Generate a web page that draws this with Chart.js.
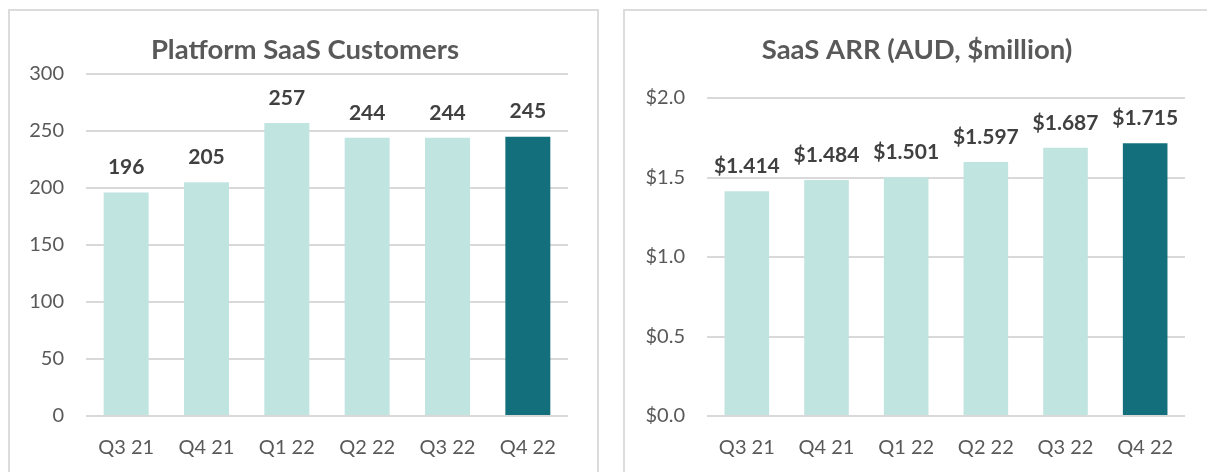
<!DOCTYPE html>
<html>
<head>
<meta charset="utf-8">
<script src="https://cdn.jsdelivr.net/npm/chart.js@4.4.0/dist/chart.umd.min.js"></script>
<style>
  html, body { margin: 0; padding: 0; background: #ffffff; width: 1207px; height: 472px; overflow: hidden; }
  .panel { position: absolute; box-sizing: border-box; border: 2px solid #dcdcdc; background: #fff; }
  canvas { position: absolute; }
</style>
</head>
<body>
<div class="panel" style="left:8px; top:9px; width:591px; height:480px;"></div>
<div class="panel" style="left:623px; top:9px; width:600px; height:480px;"></div>
<canvas id="c1" width="586" height="461" style="left:10px; top:11px;"></canvas>
<canvas id="c2" width="581" height="461" style="left:626px; top:11px;"></canvas>
<script>
// ---- data ----
const categories = ["Q3 21", "Q4 21", "Q1 22", "Q2 22", "Q3 22", "Q4 22"];
const customers = [196, 205, 257, 244, 244, 245];
const arr = [1.414, 1.484, 1.501, 1.597, 1.687, 1.715];
const customersTicks = [0, 50, 100, 150, 200, 250, 300];
const arrTicks = [0.0, 0.5, 1.0, 1.5, 2.0];
const title1 = "Platform SaaS Customers";
const title2 = "SaaS ARR (AUD, $million)";

const LIGHT = "#c0e4e0";
const DARK = "#136f7c";
const barColors = categories.map((c, i) => i === categories.length - 1 ? DARK : LIGHT);
const FONT = "Lato, 'Open Sans', sans-serif";

const labelPlugin = {
  id: "barLabels",
  afterLayout(chart, args, opts) {
    // centre the title over the whole panel rather than over the plot
    if (chart.titleBlock) {
      chart.titleBlock.left += opts.titleShift;
      chart.titleBlock.right += opts.titleShift;
    }
  },
  afterDatasetsDraw(chart, args, opts) {
    const ctx = chart.ctx;
    const meta = chart.getDatasetMeta(0);
    ctx.save();
    ctx.font = "bold 21px " + FONT;
    ctx.fillStyle = "#404040";
    ctx.textAlign = "center";
    ctx.textBaseline = "middle";
    meta.data.forEach((bar, i) => {
      const v = chart.data.datasets[0].data[i];
      ctx.fillText(opts.fmt(v), bar.x, bar.y - 25);
    });
    ctx.restore();
  }
};

function makeChart(id, data, ticks, title, fmtTick, fmtLabel, area) {
  const [left, top, right, bottom, w, h, shift] = area;
  const TS = 27.5;
  return new Chart(document.getElementById(id), {
    type: "bar",
    data: {
      labels: categories,
      datasets: [{ data: data, backgroundColor: barColors, borderWidth: 0, categoryPercentage: 0.56, barPercentage: 1.0 }]
    },
    options: {
      responsive: false,
      animation: false,
      devicePixelRatio: 1,
      layout: { padding: { left: 0, right: w - right, top: 0, bottom: 0 } },
      plugins: {
        legend: { display: false },
        tooltip: { enabled: false },
        title: {
          display: true, text: title, color: "#595959",
          font: { family: FONT, size: TS, weight: "bold", lineHeight: 1.2 },
          padding: { top: 23, bottom: top - 23 - TS * 1.2 }
        },
        barLabels: { fmt: fmtLabel, titleShift: shift }
      },
      scales: {
        x: {
          grid: { display: false, drawTicks: false },
          border: { display: false },
          ticks: { color: "#595959", font: { family: FONT, size: 20 }, padding: 20, maxRotation: 0 },
          afterFit: (s) => { s.height = h - bottom; }
        },
        y: {
          min: ticks[0], max: ticks[ticks.length - 1],
          afterBuildTicks: (s) => { s.ticks = ticks.map(v => ({ value: v })); },
          grid: { color: "#d9d9d9", lineWidth: 2, drawTicks: false },
          border: { display: false },
          ticks: { color: "#595959", font: { family: FONT, size: 20 }, padding: 22, callback: fmtTick },
          afterFit: (s) => { s.width = left; }
        }
      }
    },
    plugins: [labelPlugin]
  });
}

makeChart("c1", customers, customersTicks, title1,
  (v) => String(v), (v) => String(v),
  [76, 63, 558, 405, 586, 461, 16]);
makeChart("c2", arr, arrTicks, title2,
  (v) => "$" + Number(v).toFixed(1), (v) => "$" + v.toFixed(3),
  [81, 87, 559, 405, 581, 461, 11.5]);
</script>
</body>
</html>
